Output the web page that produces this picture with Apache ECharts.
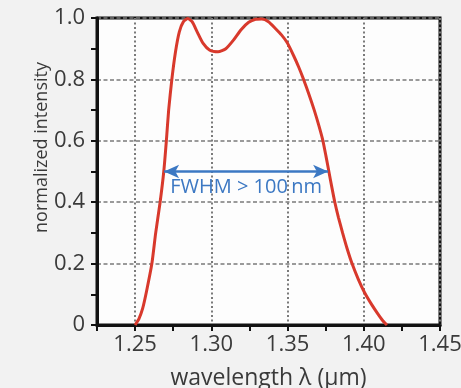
<!DOCTYPE html>
<html>
<head>
<meta charset="utf-8">
<script src="https://cdn.jsdelivr.net/npm/echarts@6/dist/echarts.min.js"></script>
<style>
  html, body { margin: 0; padding: 0; background: #f2f2f2; }
  #chart { width: 461px; height: 388px; }
</style>
</head>
<body>
<div id="chart"></div>
<script>
// spectrum: wavelength (µm) -> normalized intensity
const wavelength = [
  1.250, 1.2525, 1.255, 1.2575, 1.261, 1.2635, 1.2664, 1.2688, 1.2705, 1.272,
  1.2741, 1.2765, 1.2790, 1.2817, 1.2846, 1.2874, 1.2907, 1.2945, 1.2990, 1.3044,
  1.3095, 1.3145, 1.3195, 1.3245, 1.3290, 1.3331, 1.3375, 1.3420, 1.3460, 1.3497,
  1.3540, 1.3575, 1.3605, 1.3640, 1.3675, 1.3705, 1.3732, 1.3752, 1.3771, 1.3790,
  1.3810, 1.3834, 1.3861, 1.3890, 1.3923, 1.3965, 1.4005, 1.4050, 1.4090, 1.4125,
  1.4152
];
const intensity = [
  0.000, 0.020, 0.055, 0.110, 0.200, 0.300, 0.400, 0.500, 0.600, 0.700,
  0.800, 0.890, 0.955, 0.988, 0.998, 0.988, 0.955, 0.918, 0.895, 0.890,
  0.900, 0.928, 0.962, 0.986, 0.996, 0.997, 0.988, 0.966, 0.945, 0.920,
  0.877, 0.838, 0.800, 0.752, 0.700, 0.650, 0.600, 0.550, 0.500, 0.450,
  0.400, 0.350, 0.300, 0.250, 0.200, 0.148, 0.106, 0.068, 0.038, 0.014,
  0.000
];

// FWHM arrow: from/to wavelength at half maximum
const fwhmEnds = [1.269, 1.3766];
const fwhmLevel = 0.5;
const fwhmText = "FWHM > 100\u2009nm";

const xTickLabels = ["1.25", "1.30", "1.35", "1.40", "1.45"];
const yTickLabels = ["0", "0.2", "0.4", "0.6", "0.8", "1.0"];

const FONT = "'Open Sans', sans-serif";
const TEXT = "#3a3a3a";
const GRID_DOT = "#7a7a7a";
const BLUE = "#3c78c3";

const chart = echarts.init(document.getElementById("chart"), null, { renderer: "canvas" });

const option = {
  backgroundColor: "#f2f2f2",
  animation: false,
  grid: {
    left: 97, right: 21, top: 18, bottom: 63,
    outerBoundsMode: "none",
    containLabel: false,
    show: true,
    backgroundColor: "#fdfdfd",
    borderColor: "#111",
    borderWidth: 3,
  },
  xAxis: {
    type: "value",
    min: 1.225, max: 1.45, interval: 0.025,
    name: "wavelength \u03bb (\u03bcm)",
    nameLocation: "middle",
    nameGap: 42,
    nameMoveOverlap: false,
    nameTextStyle: { color: TEXT, fontFamily: FONT, fontSize: 23 },
    axisLine: { lineStyle: { color: "#111", width: 3 } },
    axisTick: { inside: false, length: 6, lineStyle: { color: "#111", width: 2 } },
    axisLabel: {
      color: TEXT, fontFamily: FONT, fontSize: 22, margin: 9,
      showMinLabel: true, showMaxLabel: true,
      formatter: (v) => {
        const t = v.toFixed(2);
        return xTickLabels.includes(t) && Math.abs(v - parseFloat(t)) < 1e-6 ? t : "";
      },
    },
    splitLine: {
      show: true, showMinLine: true, showMaxLine: true,
      lineStyle: { color: ["transparent", GRID_DOT], width: 2, type: [2, 2.5] },
    },
  },
  yAxis: {
    type: "value",
    min: 0, max: 1, interval: 0.1,
    name: "normalized intensity",
    nameLocation: "middle",
    nameGap: 46,
    nameMoveOverlap: false,
    nameTextStyle: { color: TEXT, fontFamily: FONT, fontSize: 18, padding: [0, 0, 0, 48] },
    axisLine: { show: true, lineStyle: { color: "#111", width: 3 } },
    axisTick: { show: true, inside: false, length: 6, lineStyle: { color: "#111", width: 2 } },
    axisLabel: {
      color: TEXT, fontFamily: FONT, fontSize: 22, margin: 12,
      formatter: (v) => {
        const t = v === 0 ? "0" : v.toFixed(1);
        return yTickLabels.includes(t) ? t : "";
      },
    },
    splitLine: {
      show: true, showMinLine: true, showMaxLine: true,
      lineStyle: { color: [GRID_DOT, "transparent"], width: 1.5, type: [4, 2.5] },
    },
  },
  series: [
    {
      type: "line",
      data: wavelength.map((w, i) => [w, intensity[i]]),
      smooth: 0.2,
      showSymbol: false,
      lineStyle: { color: "#d8392c", width: 3 },
      z: 3,
      markLine: {
        silent: true,
        symbol: ["arrow", "arrow"],
        symbolSize: [10, 15],
        lineStyle: { color: BLUE, width: 2.5, type: "solid" },
        label: { show: false },
        data: [
          [
            { coord: [fwhmEnds[0], fwhmLevel] },
            { coord: [fwhmEnds[1], fwhmLevel] },
          ],
        ],
      },
    },
  ],
};

chart.setOption(option);

// annotation text sits just under the arrow
const mid = chart.convertToPixel({ gridIndex: 0 }, [(fwhmEnds[0] + fwhmEnds[1]) / 2, fwhmLevel]);
chart.setOption({
  graphic: [
    {
      type: "text",
      x: mid[0],
      y: mid[1] + 6,
      z: 10,
      style: {
        text: fwhmText,
        fill: BLUE,
        font: "20px " + FONT,
        align: "center",
        verticalAlign: "top",
      },
    },
  ],
});
</script>
</body>
</html>
